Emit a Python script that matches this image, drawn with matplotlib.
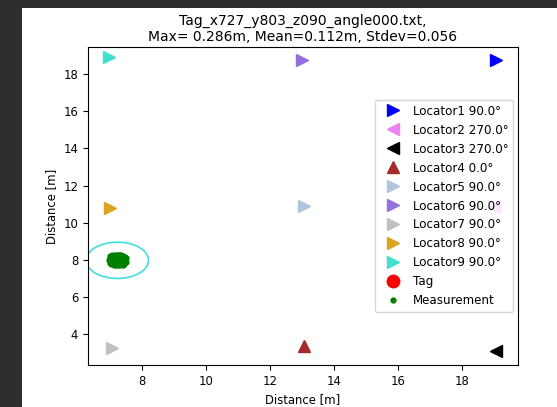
import matplotlib
matplotlib.use('Agg')
import matplotlib.pyplot as plt
from matplotlib.patches import Ellipse, Rectangle

# locator positions / headings
loc_names = ['Locator1', 'Locator2', 'Locator3', 'Locator4', 'Locator5',
             'Locator6', 'Locator7', 'Locator8', 'Locator9']
loc_angles = [90.0, 270.0, 270.0, 0.0, 90.0, 90.0, 90.0, 90.0, 90.0]
loc_x = [19.05, 19.0, 19.05, 13.05, 13.05, 13.0, 7.05, 7.0, 6.95]
loc_y = [18.75, 10.85, 3.1, 3.35, 10.9, 18.75, 3.25, 10.8, 18.9]
loc_markers = ['>', '<', '<', '^', '>', '>', '>', '>', '>']
loc_colors = ['blue', 'violet', 'black', 'brown', 'lightsteelblue',
              'mediumpurple', 'silver', 'goldenrod', 'turquoise']

tag_x, tag_y = 7.27, 8.03

meas_x = [7.00, 7.06, 7.13, 7.20, 7.27, 7.34, 7.41, 7.47,
          6.98, 7.05, 7.12, 7.19, 7.26, 7.33, 7.40, 7.48,
          6.97, 7.04, 7.11, 7.18, 7.25, 7.32, 7.39, 7.46,
          7.00, 7.07, 7.14, 7.21, 7.28, 7.35, 7.42, 7.50,
          7.03, 7.10, 7.17, 7.24, 7.31, 7.38, 7.44]
meas_y = [8.22, 8.26, 8.27, 8.25, 8.26, 8.24, 8.22, 8.18,
          8.10, 8.12, 8.11, 8.13, 8.10, 8.12, 8.11, 8.08,
          7.98, 7.97, 7.99, 7.96, 7.98, 7.97, 7.99, 7.97,
          7.86, 7.84, 7.85, 7.86, 7.84, 7.85, 7.86, 7.88,
          7.76, 7.73, 7.74, 7.72, 7.74, 7.73, 7.76]

title = 'Tag_x727_y803_z090_angle000.txt,\nMax= 0.286m, Mean=0.112m, Stdev=0.056'

fig = plt.figure(figsize=(5.57, 4.07), dpi=100, facecolor='#2e2e2e')
fig.patches.append(Rectangle((22 / 557, 0), 1 - 22 / 557, 1 - 8 / 407,
                             transform=fig.transFigure, facecolor='white',
                             edgecolor='none', zorder=-10))
ax = fig.add_axes([88 / 557, 1 - 365 / 407, (518 - 88) / 557, (365 - 47) / 407])

for i in range(len(loc_names)):
    ax.plot(loc_x[i], loc_y[i], loc_markers[i], color=loc_colors[i], markersize=9,
            label=f'{loc_names[i]} {loc_angles[i]:.1f}°')

ax.plot(tag_x, tag_y, 'o', color='red', markersize=9, label='Tag')
ax.plot(meas_x, meas_y, 'o', color='green', markersize=3.5, label='Measurement')

ax.add_patch(Ellipse((tag_x - 0.05, 7.98), 1.95, 1.95, fill=False,
                     edgecolor='#40dede', linewidth=1.2))

ax.set_xlim(6.3, 19.75)
ax.set_ylim(2.35, 19.45)
ax.set_xticks([8, 10, 12, 14, 16, 18])
ax.set_yticks([4, 6, 8, 10, 12, 14, 16, 18])
ax.tick_params(labelsize=8.4)
ax.set_xlabel('Distance [m]', fontsize=8.4)
ax.set_ylabel('Distance [m]', fontsize=8.4)
ax.set_title(title, fontsize=10, pad=4)
ax.legend(loc='center right', fontsize=8.6, handletextpad=0.6, labelspacing=0.5,
          borderaxespad=0.4, handlelength=2.2)

plt.savefig('out.png', dpi=100, facecolor=fig.get_facecolor())
plt.close()
